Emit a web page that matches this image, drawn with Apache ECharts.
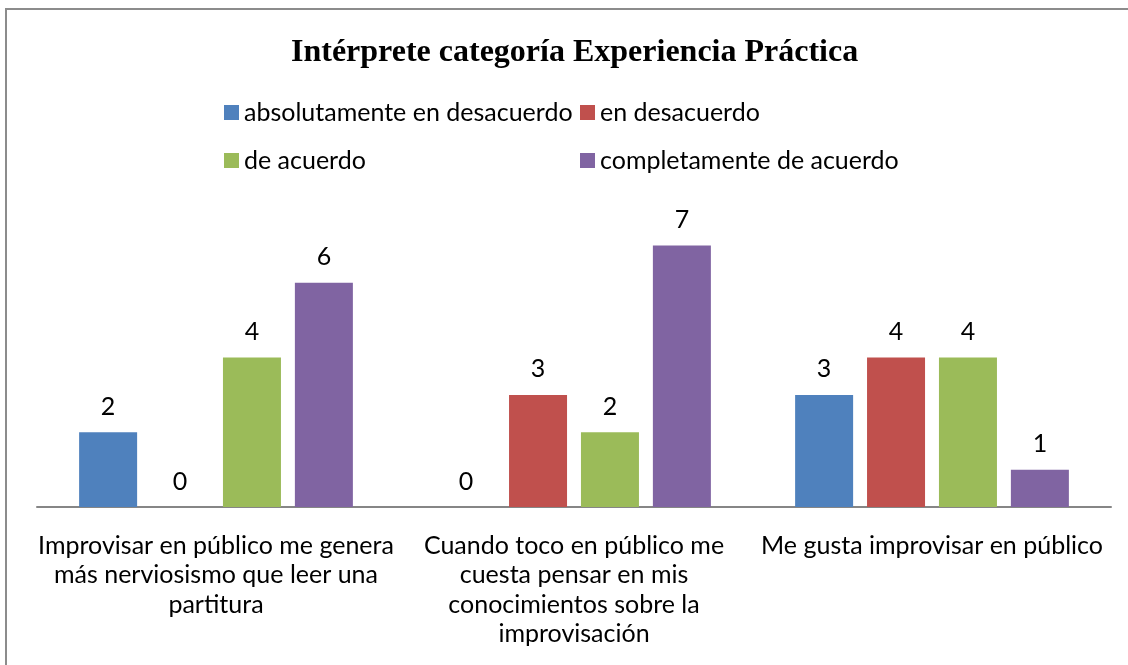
<!DOCTYPE html>
<html>
<head>
<meta charset="utf-8">
<script src="https://cdn.jsdelivr.net/npm/echarts@6/dist/echarts.min.js"></script>
<style>
  html, body { margin: 0; padding: 0; background: #ffffff; }
  #frame {
    position: absolute; left: 5px; top: 8px;
    width: 1140px; height: 680px;
    border: 2px solid #8c8c8c; box-sizing: border-box;
  }
  #chart { position: absolute; left: 0; top: 0; width: 1128px; height: 665px; }
</style>
</head>
<body>
<div id="frame"></div>
<div id="chart"></div>
<script>
// category names, broken the same way as in the original
const categories = [
  'Improvisar en público me genera\nmás nerviosismo que leer una\npartitura',
  'Cuando toco en público me\ncuesta pensar en mis\nconocimientos sobre la\nimprovisación',
  'Me gusta improvisar en público'
];
const seriesNames = [
  'absolutamente en desacuerdo',
  'en desacuerdo',
  'de acuerdo',
  'completamente de acuerdo'
];
const absDesacuerdo = [2, 0, 3];
const enDesacuerdo = [0, 3, 4];
const deAcuerdo = [4, 2, 4];
const compAcuerdo = [6, 7, 1];
const colors = ['#4f81bd', '#c0504d', '#9bbb59', '#8064a2'];

const seriesData = [absDesacuerdo, enDesacuerdo, deAcuerdo, compAcuerdo];
const labelFont = 'Lato, "Open Sans", sans-serif';

// legend sits in a 2x2 grid: [left, top] for each entry
const legendSpots = [[224, 100], [580, 100], [224, 148], [580, 148]];

const chart = echarts.init(document.getElementById('chart'));

chart.setOption({
  backgroundColor: 'transparent',
  animation: false,
  title: {
    text: 'Intérprete categoría Experiencia Práctica',
    left: 286,
    top: 32,
    textStyle: {
      fontFamily: '"Liberation Serif", "Times New Roman", serif',
      fontSize: 32,
      fontWeight: 'bold',
      color: '#000'
    }
  },
  legend: seriesNames.map((name, i) => ({
    data: [name],
    left: legendSpots[i][0],
    top: legendSpots[i][1],
    padding: 0,
    itemWidth: 15,
    itemHeight: 15,
    icon: 'rect',
    textStyle: { fontFamily: labelFont, fontSize: 25, color: '#000' }
  })),
  grid: { left: 37, right: 17, top: 208, bottom: 158 },
  xAxis: {
    type: 'category',
    data: categories,
    axisLine: { lineStyle: { color: '#868686', width: 2 } },
    axisTick: { show: false },
    axisLabel: {
      interval: 0,
      fontFamily: labelFont,
      fontSize: 25,
      lineHeight: 29.5,
      color: '#000',
      margin: 24
    }
  },
  yAxis: {
    type: 'value',
    min: 0,
    max: 8,
    interval: 1,
    show: false
  },
  series: seriesData.map((vals, i) => ({
    name: seriesNames[i],
    type: 'bar',
    data: vals,
    barWidth: 58,
    barGap: '24%',
    itemStyle: { color: colors[i] },
    label: {
      show: true,
      position: 'top',
      distance: 13,
      fontFamily: labelFont,
      fontSize: 25,
      color: '#000'
    }
  }))
});
</script>
</body>
</html>
